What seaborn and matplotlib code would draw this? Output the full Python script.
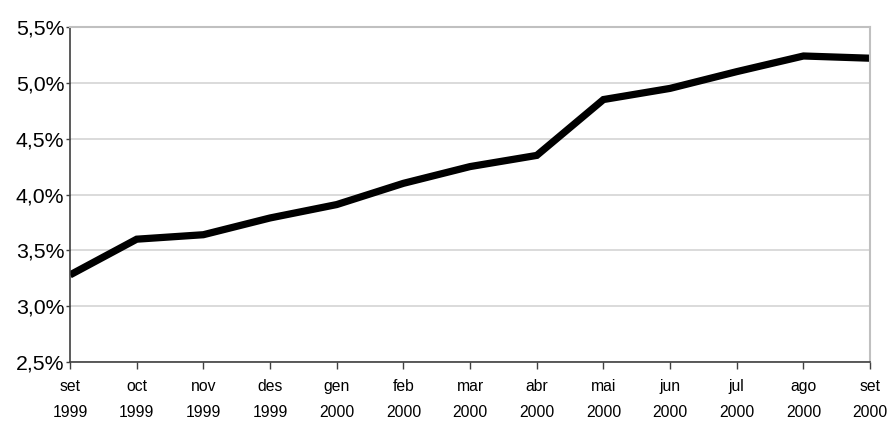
import matplotlib
matplotlib.use("Agg")
import matplotlib.pyplot as plt
import pandas as pd
import seaborn as sns
from matplotlib.ticker import FuncFormatter

# Data
months = ['set\n1999', 'oct\n1999', 'nov\n1999', 'des\n1999', 'gen\n2000', 'feb\n2000',
          'mar\n2000', 'abr\n2000', 'mai\n2000', 'jun\n2000', 'jul\n2000', 'ago\n2000',
          'set\n2000']
rates = [3.28, 3.60, 3.64, 3.79, 3.91, 4.10, 4.25, 4.35, 4.85, 4.95, 5.10, 5.24, 5.22]
yticks = [2.5, 3.0, 3.5, 4.0, 4.5, 5.0, 5.5]

df = pd.DataFrame({'pos': range(len(months)), 'rate': rates})

sns.set_style('white')
plt.rcParams['font.family'] = ['Liberation Sans', 'DejaVu Sans']

fig = plt.figure(figsize=(8.91, 4.21), dpi=100)
axe = fig.add_axes([0.0786, 0.140, 0.898, 0.796])

sns.lineplot(data=df, x='pos', y='rate', ax=axe, color='black', linewidth=5.2,
             solid_joinstyle='miter', solid_capstyle='butt')

axe.set_xlim(0, len(months) - 1)
axe.set_ylim(2.5, 5.5)
axe.set_yticks(yticks)
axe.yaxis.set_major_formatter(FuncFormatter(lambda v, p: f'{v:.1f}%'.replace('.', ',')))
axe.set_xticks(range(len(months)))
axe.set_xticklabels(months, fontsize=11.3, linespacing=1.9)
axe.tick_params(axis='y', labelsize=15.3, length=3, width=1, color='#404040',
                labelcolor='black', direction='out', left=True, pad=1)
axe.tick_params(axis='x', length=5, width=1, color='#404040', labelcolor='black',
                direction='out', bottom=True, pad=7)
axe.set_xlabel('')
axe.set_ylabel('')

axe.grid(axis='y', color='#d4d4d4', linewidth=1.2)
axe.set_axisbelow(True)
for side in ['top', 'right']:
    axe.spines[side].set_color('#c0c0c0')
    axe.spines[side].set_linewidth(1.5)
for side in ['left', 'bottom']:
    axe.spines[side].set_color('#404040')
    axe.spines[side].set_linewidth(1.2)

fig.savefig('out.png', dpi=100)
